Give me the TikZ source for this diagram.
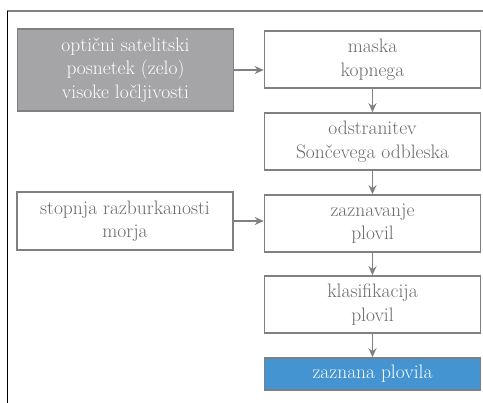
\documentclass[tikz,border=0pt]{standalone}
\usetikzlibrary{arrows.meta}
\definecolor{boxline}{HTML}{808083}
\definecolor{txtgray}{HTML}{6A6A6D}
\definecolor{grayfill}{HTML}{A5A5A7}
\definecolor{bluefill}{HTML}{4394D0}
\tikzset{
  stepbox/.style={draw=boxline, line width=1.6pt, fill=white, text=txtgray,
    minimum width=216pt, minimum height=57pt, align=center, inner sep=0pt,
    font=\fontsize{19.5pt}{23.5pt}\selectfont},
  graybox/.style={stepbox, fill=grayfill, text=white},
  bluebox/.style={stepbox, fill=bluefill, text=white, minimum height=32pt},
  conn/.style={draw=boxline, line width=1.6pt, -{Stealth[length=9pt,width=8pt]}}
}
\begin{document}
\begin{tikzpicture}[x=1pt,y=-1pt]
\useasboundingbox (0,0) rectangle (483,403);
\fill[white] (0,0) rectangle (483,403);
\draw[boxline, line width=1.2pt] (7,11) -- (483,11);
\draw[black, line width=1pt] (7,11) -- (7,403);
\node[graybox, minimum height=82pt] (sat) at (125.5,70) {optični satelitski\\posnetek (zelo)\\visoke ločljivosti};
\node[stepbox] (mask) at (372.5,59.5) {maska\\kopnega};
\node[stepbox] (odst) at (372.5,141.5) {odstranitev\\Sončevega odbleska};
\node[stepbox] (zazn) at (372.5,223.5) {zaznavanje\\plovil};
\node[stepbox] (klas) at (372.5,304.5) {klasifikacija\\plovil};
\node[bluebox] (out) at (372.5,374) {zaznana plovila};
\node[stepbox, minimum height=58pt] (morje) at (125,221) {stopnja razburkanosti\\morja};
\draw[conn] (sat.east) -- (sat.east -| mask.west);
\draw[conn] (morje.east) -- (morje.east -| zazn.west);
\draw[conn] (mask) -- (odst);
\draw[conn] (odst) -- (zazn);
\draw[conn] (zazn) -- (klas);
\draw[conn] (klas) -- (out);
\end{tikzpicture}
\end{document}
